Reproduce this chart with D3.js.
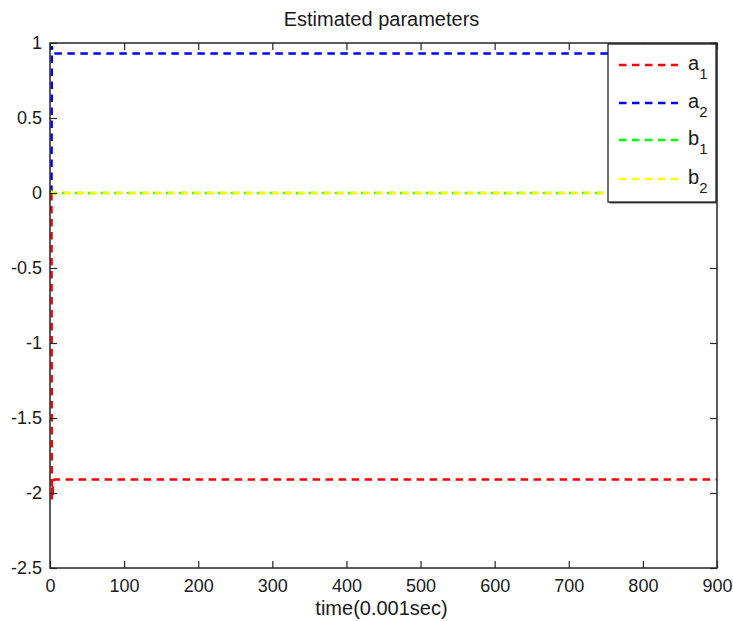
<!DOCTYPE html>
<html>
<head>
<meta charset="utf-8">
<script src="https://cdn.jsdelivr.net/npm/d3@7"></script>
<style>
  body { margin: 0; background: #fff; }
  text { font-family: "Liberation Sans", Arial, sans-serif; fill: #1a1a1a; }
</style>
</head>
<body>
<svg id="chart" width="733" height="621"></svg>
<script>
// time samples (0.001 sec) and estimated parameter values
const time = [2, 2.5, 3, 3.5, 4, 6, 10, 900];
const a1 = [0, -2.05, -1.95, -2.03, -1.93, -1.91, -1.91, -1.91];
const a2 = [0, 0.98, 0.95, 0.94, 0.93, 0.93, 0.93, 0.93];
const b1 = [0, 0.01, 0, 0, 0, 0, 0, 0];
const b2 = [0, 0.005, 0, 0, 0, 0, 0, 0];

const seriesNames = ['a', 'a', 'b', 'b'];
const seriesSubs = ['1', '2', '1', '2'];
const seriesColors = ['#ff0000', '#0000ff', '#00ff00', '#ffff00'];
const seriesValues = [a1, a2, b1, b2];

const xTicks = [0, 100, 200, 300, 400, 500, 600, 700, 800, 900];
const yTicks = [1, 0.5, 0, -0.5, -1, -1.5, -2, -2.5];

const box = {left: 50, top: 43, right: 717, bottom: 568};
const svg = d3.select('#chart');

let x = d3.scaleLinear().domain([0, 900]).range([box.left, box.right]);
let y = d3.scaleLinear().domain([-2.5, 1]).range([box.bottom, box.top]);

// data lines
let line = d3.line()
	.x((d) => x(d.t))
	.y((d) => y(d.v));

seriesValues.forEach((vals, i) => {
	let pts = time.map((t, j) => ({t: t, v: vals[j]}));
	svg.append('path')
		.datum(pts)
		.attr('fill', 'none')
		.attr('stroke', seriesColors[i])
		.attr('stroke-width', 2.5)
		.attr('stroke-dasharray', '7.5,5.5')
		.attr('d', line);
});

// axes, ticks pointing inward like matlab
const axisColor = '#262626';
function styleAxis(g) {
	g.select('.domain').remove();
	g.selectAll('.tick line').attr('stroke', axisColor).attr('stroke-width', 1.2);
	g.selectAll('.tick text')
		.style('font-family', '"Liberation Sans", Arial, sans-serif')
		.style('font-size', '18px')
		.attr('fill', '#1a1a1a');
}

svg.append('g')
	.attr('transform', 'translate(0,' + box.bottom + ')')
	.call(d3.axisBottom(x).tickValues(xTicks).tickSize(-7).tickPadding(11).tickFormat((d) => String(d)))
	.call(styleAxis);

svg.append('g')
	.attr('transform', 'translate(0,' + box.top + ')')
	.call(d3.axisTop(x).tickValues(xTicks).tickSize(-7).tickFormat(''))
	.call(styleAxis);

svg.append('g')
	.attr('transform', 'translate(' + box.left + ',0)')
	.call(d3.axisLeft(y).tickValues(yTicks).tickSize(-7).tickPadding(8).tickFormat((d) => String(d)))
	.call(styleAxis);

svg.append('g')
	.attr('transform', 'translate(' + box.right + ',0)')
	.call(d3.axisRight(y).tickValues(yTicks).tickSize(-7).tickFormat(''))
	.call(styleAxis);

svg.append('rect')
	.attr('x', box.left).attr('y', box.top)
	.attr('width', box.right - box.left).attr('height', box.bottom - box.top)
	.attr('fill', 'none')
	.attr('stroke', axisColor)
	.attr('stroke-width', 1.5);

// title and label
svg.append('text')
	.attr('x', (box.left + box.right) / 2 - 2).attr('y', 26)
	.attr('text-anchor', 'middle')
	.style('font-size', '20px')
	.text('Estimated parameters');

svg.append('text')
	.attr('x', (box.left + box.right) / 2 - 2).attr('y', 615)
	.attr('text-anchor', 'middle')
	.style('font-size', '20px')
	.text('time(0.001sec)');

// legend
const leg = {left: 608, top: 44, right: 716, bottom: 202};
svg.append('rect')
	.attr('x', leg.left + 1.5).attr('y', leg.top + 1.5)
	.attr('width', leg.right - leg.left).attr('height', leg.bottom - leg.top)
	.attr('fill', '#555');
svg.append('rect')
	.attr('x', leg.left).attr('y', leg.top)
	.attr('width', leg.right - leg.left).attr('height', leg.bottom - leg.top)
	.attr('fill', '#fff')
	.attr('stroke', '#111')
	.attr('stroke-width', 1.2);

const rowY = [65, 103, 140, 179];
seriesNames.forEach((name, i) => {
	svg.append('line')
		.attr('x1', 619).attr('x2', 678)
		.attr('y1', rowY[i]).attr('y2', rowY[i])
		.attr('stroke', seriesColors[i])
		.attr('stroke-width', 2.5)
		.attr('stroke-dasharray', '7.5,5.5');
	let t = svg.append('text')
		.attr('x', 688).attr('y', rowY[i] + 5)
		.style('font-size', '20px');
	t.append('tspan').text(name);
	t.append('tspan').attr('dy', 9).style('font-size', '15px').text(seriesSubs[i]);
});
</script>
</body>
</html>
